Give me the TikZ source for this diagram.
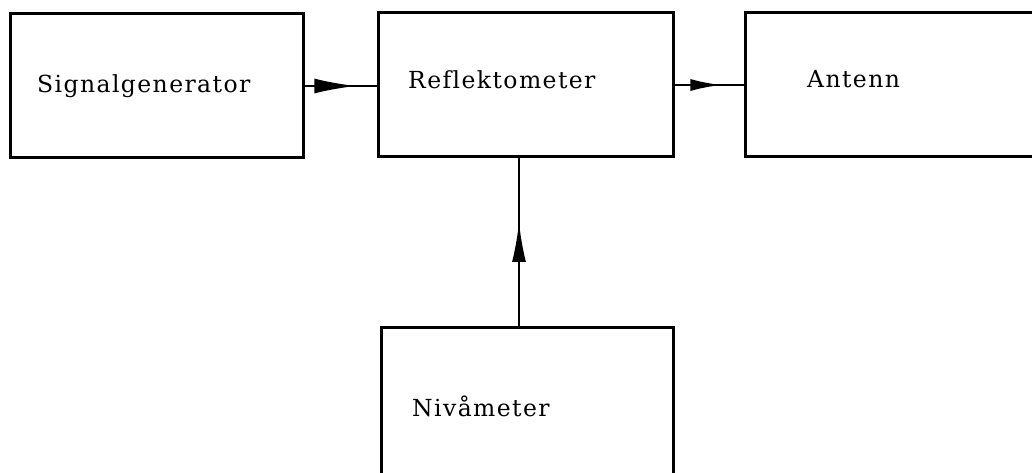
\documentclass[tikz,border=0pt]{standalone}
\usepackage{fontspec}
\newfontfamily\labfont{DejaVu Serif}[LetterSpace=6,Ligatures={NoCommon}]
\usetikzlibrary{arrows.meta,decorations.markings}
\tikzset{
  blockbox/.style={draw=black, line width=3pt, inner sep=0pt, minimum width=#1},
  lab/.style={anchor=base west, inner sep=0pt, font=\labfont\fontsize{23.5}{28}\selectfont},
  conn/.style={line width=2.4pt},
  midarrow/.style args={#1:#2:#3}{postaction={decorate}, decoration={markings,
     mark=at position #1 with {\arrow{Latex[length=#2pt,width=#3pt]}}}}
}
\begin{document}
\begin{tikzpicture}[x=1pt,y=-1pt]
\useasboundingbox (0,0) rectangle (1032,473);
\clip (0,0) rectangle (1032,473);
\fill[white] (0,0) rectangle (1032,473);
% boxes
\node[blockbox=293pt, minimum height=144pt] (sig) at (156.5,86) {};
\node[blockbox=295pt, minimum height=144pt] (ref) at (525.5,85) {};
\node[blockbox=300pt, minimum height=144pt] (ant) at (895,85) {};
\node[blockbox=292pt, minimum height=170pt] (niv) at (527,412) {};
% labels
\node[lab] (tsig) at (37,93) {Signalgenerator};
\node[lab] (tref) at (408,89) {Reflektometer};
\node[lab] (tant) at (807,88) {Antenn};
\node[lab] (tniv) at (412,416) {Nivåmeter};
% connectors
\coordinate (vx) at (519,0);
\draw[conn, midarrow={0.72:42:15}] (sig.east) -- (sig.east -| ref.west);
\draw[conn, midarrow={0.68:31:12}] (ref.east) -- (ref.east -| ant.west);
\draw[conn, midarrow={0.62:40:14}] (niv.north -| vx) -- (ref.south -| vx);
\end{tikzpicture}
\end{document}
